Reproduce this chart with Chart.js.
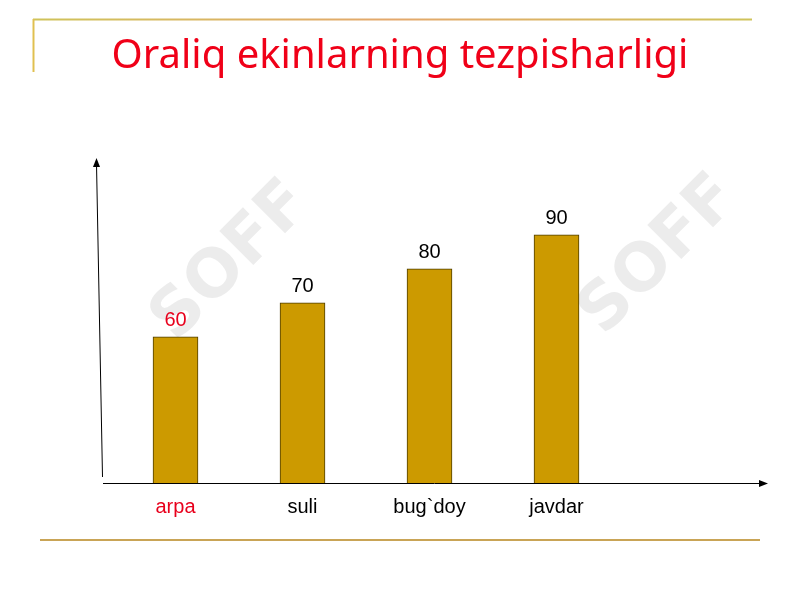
<!DOCTYPE html>
<html>
<head>
<meta charset="utf-8">
<script src="https://cdn.jsdelivr.net/npm/chart.js@4/dist/chart.umd.min.js"></script>
<style>
  html, body { margin: 0; padding: 0; background: #fff; }
  #wrap { width: 800px; height: 600px; }
</style>
</head>
<body>
<div id="wrap"><canvas id="ekinchart" width="800" height="600"></canvas></div>
<script>
var titleText = 'Oraliq ekinlarning tezpisharligi';
var crops = ['arpa', 'suli', 'bug`doy', 'javdar'];
var speed = [60, 70, 80, 90];
var labelColors = ['#e8001c', '#000000', '#000000', '#000000'];

// slide decorations: title, gold frame lines, axis arrows, faint watermark
var slidePlugin = {
	id: 'slide',
	beforeDraw: function (chart) {
		var c = chart.ctx;
		c.save();
		c.fillStyle = '#fff';
		c.fillRect(0, 0, chart.width, chart.height);

		c.font = 'bold 66px "DejaVu Sans"';
		c.fillStyle = 'rgba(150,150,150,0.18)';
		c.textAlign = 'center';
		c.textBaseline = 'middle';
		[[232, 262], [660, 256]].forEach(function (p) {
			c.save();
			c.translate(p[0], p[1]);
			c.rotate(-Math.PI / 4);
			c.fillText('SOFF', 0, 0);
			c.restore();
		});

		var g = c.createLinearGradient(33, 0, 752, 0);
		g.addColorStop(0, '#cfc35a');
		g.addColorStop(0.5, '#e4a86c');
		g.addColorStop(1, '#cfc35a');
		c.strokeStyle = g;
		c.lineWidth = 2;
		c.beginPath();
		c.moveTo(33, 19.5);
		c.lineTo(752, 19.5);
		c.stroke();
		c.strokeStyle = '#e0c050';
		c.beginPath();
		c.moveTo(33.5, 19);
		c.lineTo(33.5, 72);
		c.stroke();

		c.strokeStyle = '#c9a456';
		c.beginPath();
		c.moveTo(40, 540);
		c.lineTo(760, 540);
		c.stroke();

		c.font = '40px "Noto Sans", "Open Sans", sans-serif';
		c.fillStyle = '#f00018';
		c.textAlign = 'center';
		c.textBaseline = 'alphabetic';
		c.fillText(titleText, 400, 68);
		c.restore();
	},
	afterDatasetsDraw: function (chart) {
		var c = chart.ctx, a = chart.chartArea;
		c.save();
		c.strokeStyle = '#000';
		c.fillStyle = '#000';
		c.lineWidth = 1;
		// x axis arrow
		var y0 = Math.round(a.bottom) + 0.5, xr = a.right + 146;
		c.beginPath();
		c.moveTo(a.left - 9, y0);
		c.lineTo(xr, y0);
		c.stroke();
		c.beginPath();
		c.moveTo(xr + 2, y0);
		c.lineTo(xr - 7, y0 - 3.5);
		c.lineTo(xr - 7, y0 + 3.5);
		c.closePath();
		c.fill();
		// y axis arrow, slightly tilted like the slide
		var bx = a.left - 9.5, tx = a.left - 15.5, ty = a.top;
		c.beginPath();
		c.moveTo(bx, a.bottom - 6);
		c.lineTo(tx, ty + 4);
		c.stroke();
		c.beginPath();
		c.moveTo(tx, ty - 2);
		c.lineTo(tx - 3.5, ty + 7);
		c.lineTo(tx + 3.5, ty + 7);
		c.closePath();
		c.fill();

		// value labels above bars
		var meta = chart.getDatasetMeta(0);
		c.font = '20px "Liberation Sans", Arial, sans-serif';
		c.textAlign = 'center';
		c.textBaseline = 'bottom';
		meta.data.forEach(function (bar, i) {
			c.fillStyle = labelColors[i];
			c.fillText(String(speed[i]), bar.x, bar.y - 6);
		});
		c.restore();
	}
};

var ctx = document.getElementById('ekinchart').getContext('2d');
var ekinchart = new Chart(ctx, {
	type: 'bar',
	data: {
		labels: crops,
		datasets: [{
			data: speed,
			backgroundColor: '#cc9a00',
			borderColor: '#4d3d00',
			borderWidth: 1,
			barThickness: 45
		}]
	},
	options: {
		responsive: false,
		animation: false,
		layout: { padding: { left: 112, right: 180, top: 160, bottom: 69 } },
		plugins: {
			legend: { display: false },
			tooltip: { enabled: false }
		},
		scales: {
			x: {
				grid: { display: false, drawTicks: false },
				border: { display: false },
				ticks: {
					color: labelColors,
					padding: 12,
					font: { family: '"Liberation Sans", Arial, sans-serif', size: 20 }
				}
			},
			y: {
				display: false,
				min: 17,
				max: 112
			}
		}
	},
	plugins: [slidePlugin]
});
</script>
</body>
</html>
